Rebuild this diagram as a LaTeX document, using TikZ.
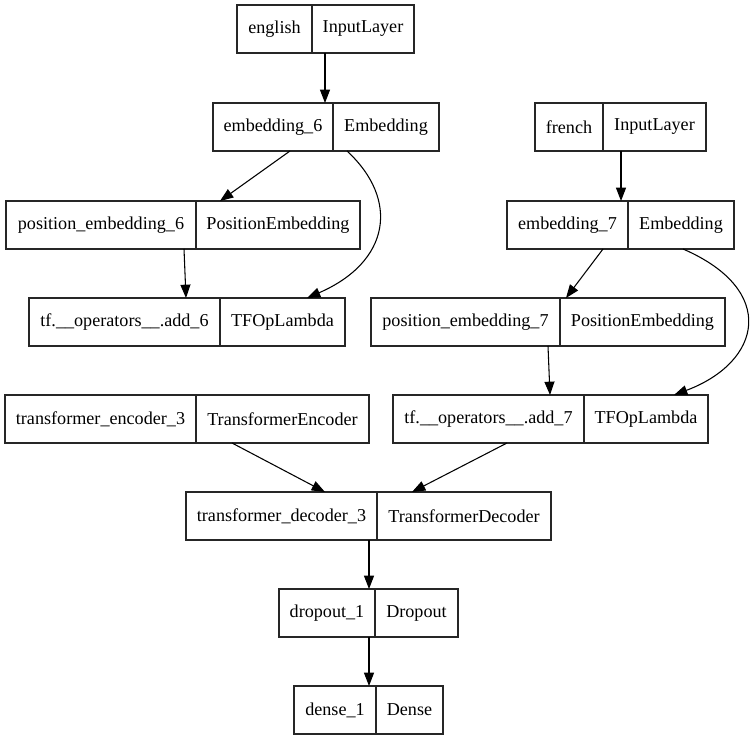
\documentclass[tikz,border=0pt]{standalone}
\usepackage{fontspec}
\setmainfont{Liberation Serif}
\newfontfamily\gvfont{Liberation Serif}
\usetikzlibrary{arrows.meta,fit,calc}
\newcommand\kbox[7]{%
  \node[boxst, fit={(#2,#5) (#4,#5+48)}] (#1) {};
  \draw[divst] (#3,#5) -- (#3,#5+48);
  \node[txt] (#1-a) at ({(#2+#3)/2},#5+24) {#6};
  \node[txt] (#1-b) at ({(#3+#4)/2},#5+24) {#7};
}
\begin{document}
\begin{tikzpicture}[x=0.75pt,y=-0.75pt,
  boxst/.style={draw=black!85, line width=1pt, inner sep=0pt, outer sep=0pt},
  divst/.style={draw=black!85, line width=1pt},
  txt/.style={inner sep=0pt, font=\gvfont\fontsize{13.6}{16}\selectfont},
  edge/.style={draw=black, line width=0.8pt, -{Triangle[length=10pt,width=7.5pt]}}]
\useasboundingbox[fill=white] (0,0) rectangle (752,741);
\kbox{eng}{237}{312}{414}{5}{english}{InputLayer}
\kbox{emb6}{213}{333}{439}{103}{embedding\_6}{Embedding}
\kbox{fr}{535}{603}{706}{103}{french}{InputLayer}
\kbox{emb7}{507}{628}{734}{201}{embedding\_7}{Embedding}
\kbox{pos6}{6}{196}{360}{201}{position\_embedding\_6}{PositionEmbedding}
\kbox{add6}{29}{220}{345}{298}{tf.\_\_operators\_\_.add\_6}{TFOpLambda}
\kbox{pos7}{371}{560}{725}{298}{position\_embedding\_7}{PositionEmbedding}
\kbox{enc}{5}{196}{369}{395}{transformer\_encoder\_3}{TransformerEncoder}
\kbox{add7}{393}{584}{708}{395}{tf.\_\_operators\_\_.add\_7}{TFOpLambda}
\kbox{dec}{186}{377}{551}{492}{transformer\_decoder\_3}{TransformerDecoder}
\kbox{drop}{279}{375}{458}{589}{dropout\_1}{Dropout}
\kbox{dense}{294}{376}{443}{686}{dense\_1}{Dense}
% edges
\draw[edge] ($(eng.south west)+(88,0)$) -- ($(emb6.north west)+(112,0)$);
\draw[edge] ($(fr.south west)+(86,0)$) -- ($(emb7.north west)+(114,0)$);
\draw[edge] ($(emb6.south west)+(77,0)$) -- ($(pos6.north west)+(214,0)$);
\draw[edge] ($(emb6.south west)+(134,0)$) .. controls (400,200) and (390,262) .. ($(add6.north west)+(278,0)$);
\draw[edge] ($(pos6.south west)+(178,0)$) -- ($(add6.north west)+(157,0)$);
\draw[edge] ($(emb7.south west)+(96,0)$) -- ($(pos7.north west)+(195,0)$);
\draw[edge] ($(emb7.south west)+(176,0)$) .. controls (778,290) and (762,362) .. ($(add7.north west)+(281,0)$);
\draw[edge] ($(pos7.south west)+(177,0)$) -- ($(add7.north west)+(157,0)$);
\draw[edge] ($(enc.south west)+(227,0)$) -- ($(dec.north west)+(139,0)$);
\draw[edge] ($(add7.south west)+(114,0)$) -- ($(dec.north west)+(226,0)$);
\draw[edge] ($(dec.south west)+(183,0)$) -- ($(drop.north west)+(90,0)$);
\draw[edge] ($(drop.south west)+(90,0)$) -- ($(dense.north west)+(75,0)$);
\end{tikzpicture}
\end{document}
